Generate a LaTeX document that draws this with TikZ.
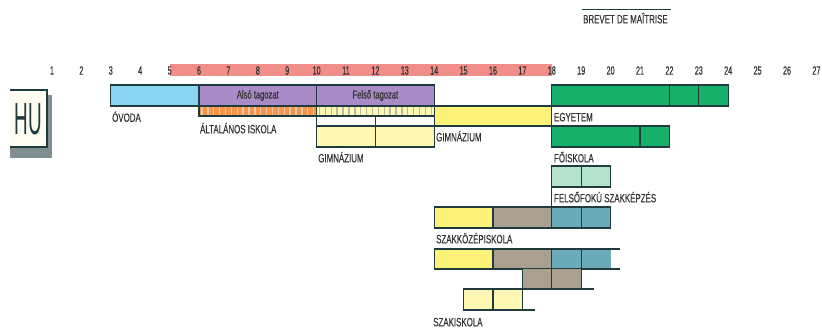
\documentclass[tikz,border=0pt]{standalone}
\usepackage{fontspec}
\setmainfont{Liberation Sans}[FakeStretch=0.66, FakeBold=0.4]
\newfontfamily\numfont{Liberation Sans}[FakeStretch=0.6, FakeBold=0.4]
\newfontfamily\hufont{Liberation Sans}[FakeStretch=0.42]
\definecolor{edge}{HTML}{1F3B3D}
\definecolor{txtc}{HTML}{333333}
\definecolor{redband}{HTML}{F28E8A}
\definecolor{skyb}{HTML}{8AD4F2}
\definecolor{purp}{HTML}{A88BC7}
\definecolor{orng}{HTML}{F7964A}
\definecolor{orngst}{HTML}{F0C8A8}
\definecolor{paleyel}{HTML}{FFF8B5}
\definecolor{paleyelst}{HTML}{B9B9AA}
\definecolor{yel}{HTML}{FDF178}
\definecolor{grn}{HTML}{17B06B}
\definecolor{mint}{HTML}{B5E2CC}
\definecolor{taupe}{HTML}{A9A08F}
\definecolor{teal}{HTML}{6AAAB9}
\definecolor{hushadow}{HTML}{7F8E90}
\definecolor{hubox}{HTML}{FFFDF2}
\tikzset{
  bar/.style={draw=edge, line width=1.3pt},
  lbl/.style={anchor=west, inner sep=0pt, text height=8.6pt, text depth=0pt,
    text=txtc, font=\fontsize{12}{12}\selectfont},
  num/.style={inner sep=0pt, text=txtc, font=\numfont\fontsize{12}{12}\selectfont},
  tag/.style={inner sep=0pt, text=txtc, font=\fontsize{11.5}{11.5}\selectfont},
  stripe/.style={line width=1.4pt},
}
\begin{document}
\begin{tikzpicture}[x=1pt,y=-1pt]
\useasboundingbox (0,0) rectangle (822,332);
% country box
\fill[hushadow] (10,95) rectangle (52,158);
\fill[hubox] (10,90) rectangle (47,147);
\draw[bar] (10,90) -- (47,90) -- (47,147) -- (10,147);
\node[inner sep=0pt, text=edge, font=\hufont\fontsize{45}{45}\selectfont] (hu) at (28.5,119) {HU};
\begin{scope}[xshift=22.6pt, x=29.4pt]
% age axis
\fill[redband] (5,64) rectangle (18,76);
\foreach \a in {1,...,27}
  \node[num] (age\a) at (\a,70.5) {\a};
\node[lbl] (brevet) at (19.06,19) {BREVET DE MAÎTRISE};
\draw[edge, line width=0.9pt] (19.03,9.5) -- (22.05,9.5);
% primary
\fill[skyb] (3,85) rectangle (6,106);
\fill[purp] (6,85) rectangle (14,106);
\draw[bar] (3,85) rectangle (14,106);
\draw[bar] (6,85) -- (6,106);
\draw[bar] (10,85) -- (10,106);
\node[tag] (also) at (8,95.5) {Alsó tagozat};
\node[tag] (felso) at (12,95.5) {Felső tagozat};
\fill[orng] (6,106) rectangle (10,116);
\foreach \s in {6.1,6.3,...,9.95}
  \draw[stripe, orngst] (\s,107) -- (\s,115);
\fill[paleyel] (10,106) rectangle (14,116);
\foreach \s in {10.1,10.3,...,13.95}
  \draw[stripe, paleyelst] (\s,107) -- (\s,115);
\draw[bar] (6,106) rectangle (14,116);
\draw[bar] (10,106) -- (10,116);
% gimnazium
\fill[paleyel] (10,126) rectangle (14,147);
\draw[bar] (10,116) rectangle (14,147);
\draw[bar] (10,126) -- (14,126);
\draw[bar] (12,116) -- (12,147);
\fill[yel] (14,106) rectangle (18,126);
\draw[bar] (14,106) rectangle (18,126);
% higher education
\fill[grn] (18,85) rectangle (24,106);
\draw[bar] (18,85) rectangle (24,106);
\draw[bar] (22,85) -- (22,106);
\draw[bar] (23,85) -- (23,106);
\fill[grn] (18,126) rectangle (22,147);
\draw[bar] (18,126) rectangle (22,147);
\draw[bar] (21,126) -- (21,147);
\fill[mint] (18,166) rectangle (20,187);
\draw[bar] (18,166) rectangle (20,187);
\draw[bar] (19,166) -- (19,187);
% szakkozepiskola
\fill[yel] (14,207) rectangle (16,228);
\fill[taupe] (16,207) rectangle (18,228);
\fill[teal] (18,207) rectangle (20,228);
\draw[bar] (14,207) rectangle (20,228);
\draw[bar] (16,207) -- (16,228);
\draw[bar] (18,187) -- (18,228);
\draw[bar] (19,207) -- (19,228);
% szakiskola
\fill[yel] (14,249) rectangle (16,269);
\fill[taupe] (16,249) rectangle (18,269);
\fill[teal] (18,249) rectangle (20,269);
\draw[bar] (20.33,249) -- (14,249) -- (14,269) -- (20.33,269);
\draw[bar] (16,249) -- (16,269);
\draw[bar] (18,249) -- (18,269);
\draw[bar] (19,249) -- (19,269);
\fill[taupe] (17,269) rectangle (19,289);
\draw[bar] (17,269) -- (17,289) -- (19.43,289);
\draw[bar] (18,269) -- (18,289);
\draw[bar] (19,269) -- (19,289);
\fill[paleyel] (15,289) rectangle (17,310);
\draw[bar] (17,289) -- (15,289) -- (15,310) -- (17.43,310);
\draw[bar] (16,289) -- (16,310);
\draw[bar] (17,289) -- (17,310);
% labels
\node[lbl] (ovoda) at (3.04,117.5) {ÓVODA};
\node[lbl] (altalanos) at (6.03,129) {ÁLTALÁNOS ISKOLA};
\node[lbl] (gimn4) at (10.05,158) {GIMNÁZIUM};
\node[lbl] (gimn) at (14.06,137) {GIMNÁZIUM};
\node[lbl] (egyetem) at (18.07,117) {EGYETEM};
\node[lbl] (foiskola) at (18.07,158) {FŐISKOLA};
\node[lbl] (felsofoku) at (18.07,198) {FELSŐFOKÚ SZAKKÉPZÉS};
\node[lbl] (szakkozep) at (14.06,239) {SZAKKÖZÉPISKOLA};
\node[lbl] (szakiskola) at (13.96,322) {SZAKISKOLA};
\end{scope}
\end{tikzpicture}
\end{document}
